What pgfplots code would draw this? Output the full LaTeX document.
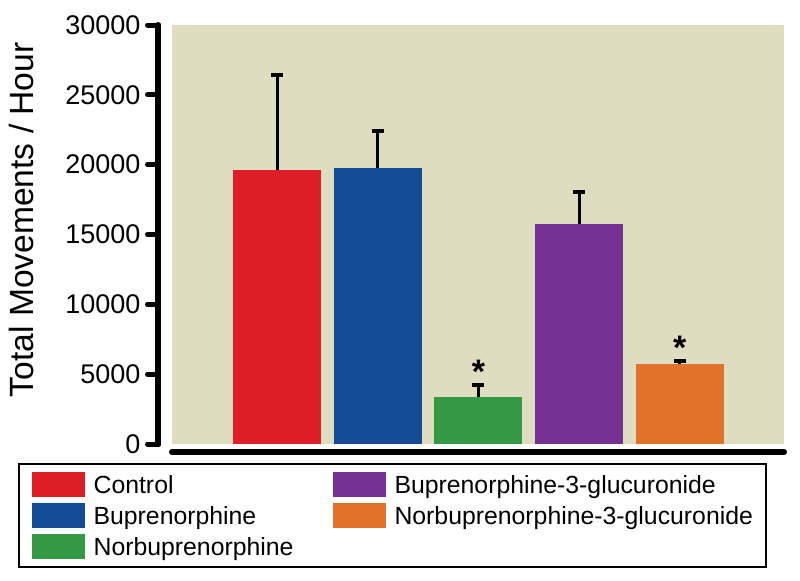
\documentclass[border=0pt]{standalone}
\usepackage{fontspec}
\setmainfont{Liberation Sans}
\usepackage{pgfplots}
\pgfplotsset{compat=1.18}
\definecolor{cRed}{RGB}{222,30,38}
\definecolor{cBlue}{RGB}{19,76,148}
\definecolor{cGreen}{RGB}{51,153,68}
\definecolor{cPurple}{RGB}{116,51,146}
\definecolor{cOrange}{RGB}{224,115,41}
\definecolor{cBeige}{RGB}{222,221,192}
\begin{document}
\begin{tikzpicture}
\useasboundingbox (0,0) rectangle (400pt,290pt);
\begin{axis}[
  at={(86pt,68pt)}, anchor=south west,
  width=306pt, height=209.5pt, scale only axis,
  xmin=-1.043, xmax=5.035, ymin=0, ymax=30000,
  axis lines*=left,
  axis x line shift=4pt, axis y line shift=6.75pt,
  axis line style={line width=3pt, line cap=round},
  xtick=\empty,
  ytick={0,5000,10000,15000,20000,25000,30000},
  scaled y ticks=false,
  yticklabel style={/pgf/number format/.cd, fixed, 1000 sep={}, assume math mode=true},
  ticklabel style={font=\fontsize{13.5}{16}\selectfont},
  tick align=outside, major tick length=5.5pt,
  every tick/.style={black, line width=2.5pt, line cap=round},
  ylabel={Total Movements / Hour},
  ylabel style={font=\fontsize{16.8}{20}\selectfont, at={(ticklabel cs:0.535)}, yshift=9pt},
  axis background/.style={fill=cBeige},
  ybar, bar width=44pt,
  error bars/y dir=plus, error bars/y explicit,
  error bars/error bar style={line width=1.5pt, black},
  error bars/error mark options={rotate=90, mark size=3pt, line width=2pt, black},
  legend columns=2,
  legend cell align=left,
  legend image code/.code={\fill[#1] (0pt,-6.25pt) rectangle (26.5pt,6.25pt);},
  legend style={at={(rel axis cs:-0.2516,-0.0454)}, anchor=north west, draw=black, line width=1pt,
    inner xsep=6.3pt, inner ysep=4.2pt, font=\fontsize{12.4}{15}\selectfont,
    row sep=2.85pt, nodes={inner sep=0pt, text height=8.9pt, text depth=0pt},
    /tikz/every odd column/.append style={column sep=4.5pt},
    /tikz/every even column/.append style={column sep=19.5pt}},
]
\addplot[fill=cRed, draw=none, bar shift=0pt] coordinates {(0,19600) +- (0,6820)};
\addlegendentry{Control}
\addplot[fill=cPurple, draw=none, bar shift=0pt] coordinates {(3,15730) +- (0,2340)};
\addlegendentry{Buprenorphine-3-glucuronide}
\addplot[fill=cBlue, draw=none, bar shift=0pt] coordinates {(1,19740) +- (0,2670)};
\addlegendentry{Buprenorphine}
\addplot[fill=cOrange, draw=none, bar shift=0pt] coordinates {(4,5750) +- (0,190)};
\addlegendentry{Norbuprenorphine-3-glucuronide}
\addplot[fill=cGreen, draw=none, bar shift=0pt] coordinates {(2,3390) +- (0,830)};
\addlegendentry{Norbuprenorphine}
\node[font=\bfseries\fontsize{17}{20}\selectfont, anchor=base, yshift=1pt] at (axis cs:2,4220) {*};
\node[font=\bfseries\fontsize{17}{20}\selectfont, anchor=base, yshift=1pt] at (axis cs:4,5940) {*};
\end{axis}
\end{tikzpicture}
\end{document}
